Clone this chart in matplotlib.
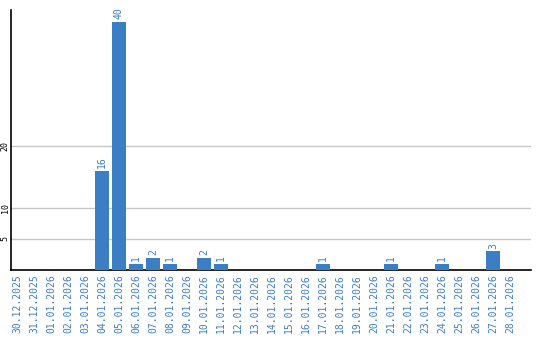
import matplotlib
matplotlib.use("Agg")
import matplotlib.pyplot as plt
import numpy as np

dates = ["30.12.2025", "31.12.2025", "01.01.2026", "02.01.2026", "03.01.2026",
         "04.01.2026", "05.01.2026", "06.01.2026", "07.01.2026", "08.01.2026",
         "09.01.2026", "10.01.2026", "11.01.2026", "12.01.2026", "13.01.2026",
         "14.01.2026", "15.01.2026", "16.01.2026", "17.01.2026", "18.01.2026",
         "19.01.2026", "20.01.2026", "21.01.2026", "22.01.2026", "23.01.2026",
         "24.01.2026", "25.01.2026", "26.01.2026", "27.01.2026", "28.01.2026"]
counts = [0, 0, 0, 0, 0, 16, 40, 1, 2, 1, 0, 2, 1, 0, 0,
          0, 0, 0, 1, 0, 0, 0, 1, 0, 0, 1, 0, 0, 3, 0]
y_ticks = [5, 10, 20]

bar_color = "#3b7ec4"
text_color = "#3b7ec4"
mono = "DejaVu Sans Mono"

fig = plt.figure(figsize=(5.4, 3.4), dpi=100)
ax = fig.add_axes([11 / 540, 70 / 340, 520 / 540, 260 / 340])

x = np.arange(len(dates))
ax.bar(x, counts, width=0.82, color=bar_color, zorder=3)

for xi, v in zip(x, counts):
    if v > 0:
        ax.text(xi, v + 0.4, str(v), rotation=90, ha="center", va="bottom",
                color=text_color, fontsize=7, family=mono)

ax.set_xlim(-0.35, 30.24)
ax.set_ylim(0, 41.9)
ax.set_yticks(y_ticks)
ax.set_yticklabels([str(t) for t in y_ticks], rotation=90, va="center",
                   fontsize=6, family=mono)
ax.grid(axis="y", color="#c8c8c8", linewidth=1, zorder=0)
ax.set_xticks(x)
ax.set_xticklabels(dates, rotation=90, fontsize=7, family=mono, color=text_color)
ax.tick_params(length=0, pad=3)
ax.tick_params(axis="y", pad=1)

for side in ["top", "right"]:
    ax.spines[side].set_visible(False)
ax.spines["left"].set_linewidth(1.2)
ax.spines["bottom"].set_linewidth(1.2)

fig.savefig("out.png", dpi=100)
